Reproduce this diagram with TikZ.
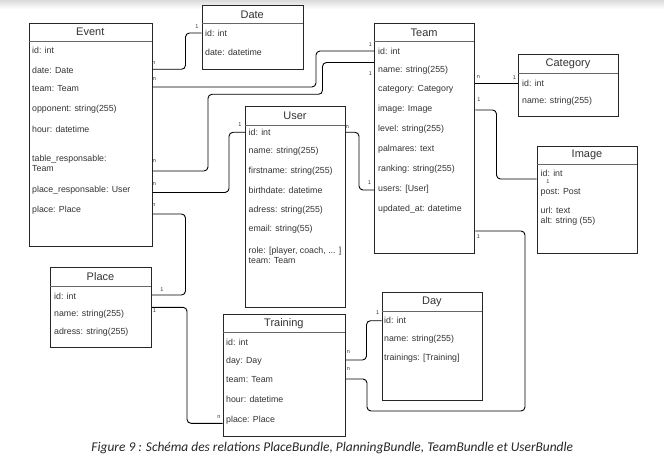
\documentclass[tikz,border=0pt]{standalone}
\usepackage{fontspec}
\setmainfont{Liberation Sans}
\newfontfamily\capfont{Carlito}
\usetikzlibrary{calc}
\begin{document}
\begin{tikzpicture}[x=1pt,y=-1pt,
 box/.style={draw=black!85, line width=1pt, anchor=north west, inner sep=0pt, fill=white},
 ttl/.style={font=\fontsize{11}{12}\selectfont, text=black!80, anchor=center, inner sep=0pt},
 attr/.style={font=\fontsize{8.8}{10}\selectfont, text=black!80, anchor=west, inner sep=0pt},
 card/.style={font=\fontsize{5.5}{6}\selectfont, text=black!80, inner sep=0pt},
 link/.style={draw=black, line width=0.9pt, rounded corners=4pt},
 hdr/.style={draw=black!60, line width=0.9pt}]
\useasboundingbox (0,0) rectangle (664,468);
\shade[top color=black!14, bottom color=white] (0,0) rectangle (664,9);
\newcommand\ubox[7]{%
 \node[box, minimum width={#4-#2}, minimum height={#5-#3}] (#1) at (#2,#3) {};
 \draw[hdr] (#2,#6) -- (#4,#6);
 \node[ttl] (#1-t) at ({(#2+#4)/2},{(#3+#6)/2}) {#7};
}
\ubox{event}{29}{23.3}{151.5}{245.5}{41}{Event}
\ubox{date}{201.7}{5.3}{302.7}{69.3}{23.3}{Date}
\ubox{user}{245}{105.7}{345}{306.7}{125}{User}
\ubox{team}{374}{23.3}{474.3}{253.3}{41.7}{Team}
\ubox{category}{517.7}{54.3}{618.3}{116}{73.3}{Category}
\ubox{image}{536.7}{145.7}{637.3}{253.3}{164.3}{Image}
\ubox{place}{50}{267.3}{151}{346.7}{286}{Place}
\ubox{training}{222.7}{314.3}{345}{436}{332.7}{Training}
\ubox{day}{381.7}{292.3}{482}{400.3}{311}{Day}
% Event
\node[attr] (ev1) at (32,50) {id: int};
\node[attr] (ev2) at (32,70) {date: Date};
\node[attr] (ev3) at (32,89) {team: Team};
\node[attr] (ev4) at (32,109) {opponent: string(255)};
\node[attr] (ev5) at (32,129) {hour: datetime};
\node[attr] (ev6) at (32,159) {table\_responsable:};
\node[attr] (ev7) at (32,169) {Team};
\node[attr] (ev8) at (32,190) {place\_responsable: User};
\node[attr] (ev9) at (32,210) {place: Place};
% Date
\node[attr] (da1) at (205,33) {id: int};
\node[attr] (da2) at (205,52) {date: datetime};
% Team
\node[attr] (te1) at (378,51) {id: int};
\node[attr] (te2) at (378,70) {name: string(255)};
\node[attr] (te3) at (378,89) {category: Category};
\node[attr] (te4) at (378,109) {image: Image};
\node[attr] (te5) at (378,129) {level: string(255)};
\node[attr] (te6) at (378,149) {palmares: text};
\node[attr] (te7) at (378,169) {ranking: string(255)};
\node[attr] (te8) at (378,189) {users: [User]};
\node[attr] (te9) at (378,209) {updated\_at: datetime};
% Category
\node[attr] (ca1) at (522,83) {id: int};
\node[attr] (ca2) at (522,101) {name: string(255)};
% Image
\node[attr] (im1) at (540.5,173) {id: int};
\node[card] (im1c) at (548,182) {1};
\node[attr] (im2) at (540.5,192) {post: Post};
\node[attr] (im3) at (540.5,210) {url: text};
\node[attr] (im4) at (540.5,221) {alt: string (55)};
% User
\node[attr] (us1) at (248.5,132) {id: int};
\node[attr] (us2) at (248.5,151) {name: string(255)};
\node[attr] (us3) at (248.5,171) {firstname: string(255)};
\node[attr] (us4) at (248.5,190) {birthdate: datetime};
\node[attr] (us5) at (248.5,210) {adress: string(255)};
\node[attr] (us6) at (248.5,229) {email: string(55)};
\node[attr] (us7) at (248.5,251.7) {role: [player, coach, ... ]};
\node[attr] (us8) at (248.5,260.7) {team: Team};
% Place
\node[attr] (pl1) at (54,296) {id: int};
\node[attr] (pl2) at (54,314.3) {name: string(255)};
\node[attr] (pl3) at (54,332.7) {adress: string(255)};
% Training
\node[attr] (tr1) at (226,342.3) {id: int};
\node[attr] (tr2) at (226,361) {day: Day};
\node[attr] (tr3) at (226,379.7) {team: Team};
\node[attr] (tr4) at (226,399.7) {hour: datetime};
\node[attr] (tr5) at (226,420) {place: Place};
% Day
\node[attr] (dy1) at (384,320.7) {id: int};
\node[attr] (dy2) at (384,339.3) {name: string(255)};
\node[attr] (dy3) at (384,358.3) {trainings: [Training]};
% Connectors
\draw[link] (event.east |- 0,69.3) -| (185.5,33) -- (date.west |- 0,33);
\node[card] (l1a) at (154,63) {n};
\node[card] (l1b) at (197,27) {1};
\draw[link] (event.east |- 0,87) -| (316,51) -- (team.west |- 0,51);
\node[card] (l2a) at (154.5,79) {n};
\node[card] (l2b) at (370.5,45) {1};
\draw[link] (event.east |- 0,171) -| (208,94.3) -| (322.5,62.5) -- (team.west |- 0,62.5);
\node[card] (l3a) at (154.5,161) {n};
\node[card] (l3b) at (370.5,74) {1};
\draw[link] (event.east |- 0,192.5) -| (229,132.3) -- (user.west |- 0,132.3);
\node[card] (l4a) at (154.5,184) {n};
\node[card] (l4b) at (240,125) {1};
\draw[link] (event.east |- 0,214) -| (185.5,295) -- (place.east |- 0,295);
\node[card] (l5a) at (154,205) {n};
\node[card] (l5b) at (162,290) {1};
\draw[link] (place.east |- 0,307.3) -| (187,423.3) -- (training.west |- 0,423.3);
\node[card] (l6a) at (154.5,311) {1};
\node[card] (l6b) at (219,417) {n};
\draw[link] (user.east |- 0,132.3) -| (359,190) -- (team.west |- 0,190);
\node[card] (l7a) at (347.5,127) {n};
\node[card] (l7b) at (369.5,183) {1};
\draw[link] (team.east |- 0,83.3) -- (category.west |- 0,83.3);
\node[card] (l8a) at (478.5,77.5) {n};
\node[card] (l8b) at (514.5,77.5) {1};
\draw[link] (team.east |- 0,110) -| (496.5,179) -- (image.west |- 0,179);
\node[card] (l9a) at (479,99.5) {1};
\draw[link] (team.east |- 0,231) -| (525,411) -| (367,379) -- (training.east |- 0,379);
\node[card] (l10a) at (478.5,237) {1};
\node[card] (l10b) at (348.5,369.5) {n};
\draw[link] (training.east |- 0,360) -| (366.5,320.7) -- (day.west |- 0,320.7);
\node[card] (l11a) at (348.5,352.5) {n};
\node[card] (l11b) at (377.7,312.3) {1};
% Caption
\node[font=\capfont\itshape\fontsize{13.4}{15}\selectfont, text=black!85, inner sep=0pt] (cap) at (332.3,448.3) {Figure 9 : Schéma des relations PlaceBundle, PlanningBundle, TeamBundle et UserBundle};
\end{tikzpicture}
\end{document}
